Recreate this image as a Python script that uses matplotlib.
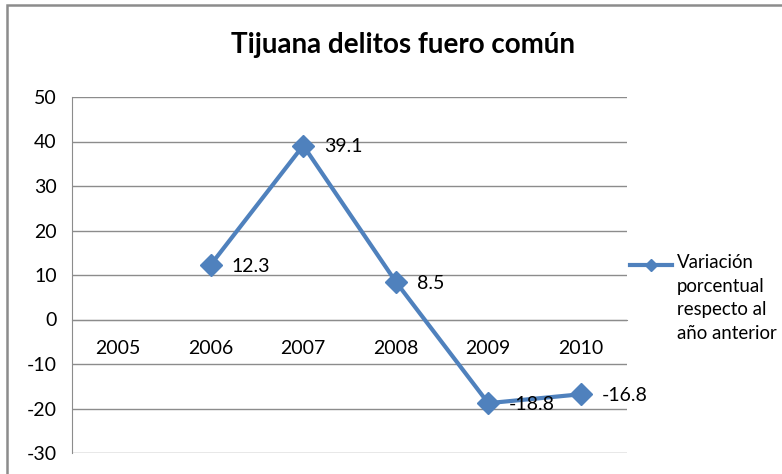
import numpy as np
import matplotlib
matplotlib.use("Agg")
import matplotlib.pyplot as plt
from matplotlib.patches import Rectangle
from matplotlib.lines import Line2D

years = ["2005", "2006", "2007", "2008", "2009", "2010"]
variacion = [np.nan, 12.3, 39.1, 8.5, -18.8, -16.8]
yticks = [-30, -20, -10, 0, 10, 20, 30, 40, 50]
serie = "Variación\nporcentual\nrespecto al\naño anterior"

plt.rcParams["font.family"] = ["Lato", "DejaVu Sans"]
plt.rcParams["axes.unicode_minus"] = False

BLUE = "#4F81BD"
GRID = "#8c8c8c"
W, H = 782, 474
fig = plt.figure(figsize=(W / 100, H / 100), dpi=100)
fig.patch.set_facecolor("white")

# outer chart frame (open on the right and bottom edges)
fig.patches.append(Rectangle((7 / W, -0.05), 1.1, 1 - 5 / H + 0.05,
                             transform=fig.transFigure, fill=False,
                             edgecolor=GRID, lw=1.8))

ax = fig.add_axes([72 / W, (H - 453) / H, 555 / W, 356 / H])
x = np.arange(len(years))

ax.plot(x, variacion, color=BLUE, lw=3.0, marker="D", markersize=11, zorder=3)

for xi, v in zip(x, variacion):
    if np.isnan(v):
        continue
    ax.annotate(f"{v:.1f}", (xi, v), xytext=(15, -1), textcoords="offset points",
                va="center", ha="left", fontsize=14, zorder=4)

ax.set_xlim(-0.5, len(years) - 0.5)
ax.set_ylim(-30, 50)
ax.set_yticks(yticks)
ax.set_xticks(x)
ax.set_xticklabels(years)
ax.grid(axis="y", color=GRID, lw=1)
ax.set_axisbelow(True)

for s in ["top", "right"]:
    ax.spines[s].set_visible(False)
ax.spines["left"].set_color(GRID)
ax.spines["bottom"].set_position(("data", 0))
ax.spines["bottom"].set_color(GRID)
ax.tick_params(axis="x", length=0, pad=15, labelsize=14)
ax.tick_params(axis="y", length=0, pad=11, labelsize=14)

fig.text(0.515, 0.905, "Tijuana delitos fuero común", ha="center", va="center",
         fontsize=20, fontweight="bold")

# legend: key aligned with the first line of the wrapped series name
ly = 1 - 265 / H
fig.add_artist(Line2D([630 / W, 672 / W], [ly, ly], transform=fig.transFigure,
                      color=BLUE, lw=3.0))
fig.add_artist(Line2D([651 / W], [ly], transform=fig.transFigure, color=BLUE,
                      marker="D", markersize=6, lw=0))
fig.text(677 / W, 1 - 254 / H, serie, ha="left", va="top", fontsize=13.4,
         linespacing=1.48)

fig.savefig("out.png", dpi=100)
